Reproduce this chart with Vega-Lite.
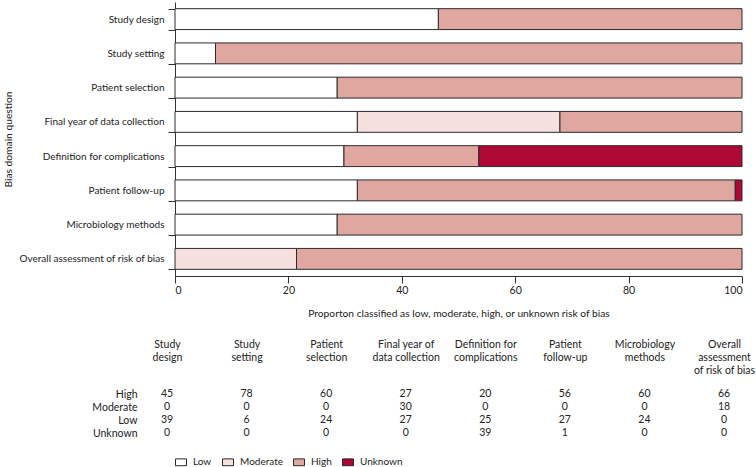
{
  "$schema": "https://vega.github.io/schema/vega-lite/v6.json",
  "padding": {"left": 3, "top": -3, "right": 5, "bottom": 0},
  "background": "white",
  "config": {
    "view": {"stroke": null},
    "font": "Lato",
    "text": {"font": "Lato", "fontSize": 10.5, "color": "#222"},
    "axis": {"labelFont": "Lato", "titleFont": "Lato", "labelFontSize": 10.5, "titleFontSize": 10.25, "titleFontWeight": "normal", "labelColor": "#222", "titleColor": "#222", "domainColor": "#333", "tickColor": "#333", "grid": false},
    "legend": {"labelFont": "Lato", "labelFontSize": 10, "labelColor": "#222"},
    "concat": {"spacing": 20}
  },
  "datasets": {
    "d": [
      {"question": "Study design", "header": "Study|design", "level": "High", "n": 45},
      {"question": "Study design", "header": "Study|design", "level": "Moderate", "n": 0},
      {"question": "Study design", "header": "Study|design", "level": "Low", "n": 39},
      {"question": "Study design", "header": "Study|design", "level": "Unknown", "n": 0},
      {"question": "Study setting", "header": "Study|setting", "level": "High", "n": 78},
      {"question": "Study setting", "header": "Study|setting", "level": "Moderate", "n": 0},
      {"question": "Study setting", "header": "Study|setting", "level": "Low", "n": 6},
      {"question": "Study setting", "header": "Study|setting", "level": "Unknown", "n": 0},
      {"question": "Patient selection", "header": "Patient|selection", "level": "High", "n": 60},
      {"question": "Patient selection", "header": "Patient|selection", "level": "Moderate", "n": 0},
      {"question": "Patient selection", "header": "Patient|selection", "level": "Low", "n": 24},
      {"question": "Patient selection", "header": "Patient|selection", "level": "Unknown", "n": 0},
      {"question": "Final year of data collection", "header": "Final year of|data collection", "level": "High", "n": 27},
      {"question": "Final year of data collection", "header": "Final year of|data collection", "level": "Moderate", "n": 30},
      {"question": "Final year of data collection", "header": "Final year of|data collection", "level": "Low", "n": 27},
      {"question": "Final year of data collection", "header": "Final year of|data collection", "level": "Unknown", "n": 0},
      {"question": "Definition for complications", "header": "Definition for|complications", "level": "High", "n": 20},
      {"question": "Definition for complications", "header": "Definition for|complications", "level": "Moderate", "n": 0},
      {"question": "Definition for complications", "header": "Definition for|complications", "level": "Low", "n": 25},
      {"question": "Definition for complications", "header": "Definition for|complications", "level": "Unknown", "n": 39},
      {"question": "Patient follow-up", "header": "Patient|follow-up", "level": "High", "n": 56},
      {"question": "Patient follow-up", "header": "Patient|follow-up", "level": "Moderate", "n": 0},
      {"question": "Patient follow-up", "header": "Patient|follow-up", "level": "Low", "n": 27},
      {"question": "Patient follow-up", "header": "Patient|follow-up", "level": "Unknown", "n": 1},
      {"question": "Microbiology methods", "header": "Microbiology|methods", "level": "High", "n": 60},
      {"question": "Microbiology methods", "header": "Microbiology|methods", "level": "Moderate", "n": 0},
      {"question": "Microbiology methods", "header": "Microbiology|methods", "level": "Low", "n": 24},
      {"question": "Microbiology methods", "header": "Microbiology|methods", "level": "Unknown", "n": 0},
      {"question": "Overall assessment of risk of bias", "header": "Overall|assessment|of risk of bias", "level": "High", "n": 66},
      {"question": "Overall assessment of risk of bias", "header": "Overall|assessment|of risk of bias", "level": "Moderate", "n": 18},
      {"question": "Overall assessment of risk of bias", "header": "Overall|assessment|of risk of bias", "level": "Low", "n": 0},
      {"question": "Overall assessment of risk of bias", "header": "Overall|assessment|of risk of bias", "level": "Unknown", "n": 0}
    ]
  },
  "vconcat": [
    {
      "width": 567,
      "height": 274,
      "data": {"name": "d"},
      "transform": [
        {"filter": "datum.n > 0"},
        {"calculate": "indexof(['Low', 'Moderate', 'High', 'Unknown'], datum.level)", "as": "stack_rank"}
      ],
      "mark": {"type": "bar", "stroke": "#2b2b2b", "strokeWidth": 1},
      "encoding": {
        "y": {
          "field": "question", "type": "nominal",
          "sort": ["Study design", "Study setting", "Patient selection", "Final year of data collection", "Definition for complications", "Patient follow-up", "Microbiology methods", "Overall assessment of risk of bias"],
          "scale": {"paddingInner": 0.39, "paddingOuter": 0.195},
          "axis": {"title": "Bias domain question", "tickBand": "extent", "tickSize": 7, "labelPadding": 4, "labelFontSize": 10, "titlePadding": 5}
        },
        "x": {
          "field": "n", "type": "quantitative", "stack": "normalize",
          "scale": {"domain": [0, 1], "nice": false},
          "axis": {"title": "Proporton classified as low, moderate, high, or unknown risk of bias", "values": [0, 0.2, 0.4, 0.6, 0.8, 1], "labelExpr": "format(datum.value * 100, 'd')", "tickSize": 7, "labelPadding": 2, "titlePadding": 13}
        },
        "color": {
          "field": "level", "type": "nominal",
          "sort": ["Low", "Moderate", "High", "Unknown"],
          "scale": {"domain": ["Low", "Moderate", "High", "Unknown"], "range": ["#ffffff", "#f6dfdf", "#e0a6a0", "#b00834"]},
          "legend": {"title": null, "orient": "bottom", "direction": "horizontal", "symbolType": "M-1,-0.62H1V0.62H-1Z", "symbolSize": 121, "symbolStrokeColor": "#2b2b2b", "symbolStrokeWidth": 1, "labelOffset": 6, "columnPadding": 8, "offset": 17}
        },
        "order": {"field": "stack_rank", "type": "quantitative"}
      }
    },
    {
      "width": 557,
      "height": 65,
      "data": {"name": "d"},
      "mark": {"type": "text", "dx": -8},
      "encoding": {
        "x": {
          "field": "header", "type": "nominal",
          "sort": ["Study|design", "Study|setting", "Patient|selection", "Final year of|data collection", "Definition for|complications", "Patient|follow-up", "Microbiology|methods", "Overall|assessment|of risk of bias"],
          "scale": {"type": "point", "padding": 0},
          "axis": {"orient": "top", "title": null, "domain": false, "ticks": false, "labelPadding": 29, "labelBaseline": "top", "labelAngle": 0, "labelAlign": "center", "labelOffset": -8, "labelOverlap": false, "labelExpr": "split(datum.label, '|')", "labelLineHeight": 13}
        },
        "y": {
          "field": "level", "type": "nominal",
          "sort": ["High", "Moderate", "Low", "Unknown"],
          "scale": {"type": "point", "padding": 1, "align": 1},
          "axis": {"title": null, "domain": false, "ticks": false, "labelPadding": 38}
        },
        "text": {"field": "n", "type": "quantitative"}
      }
    }
  ]
}
